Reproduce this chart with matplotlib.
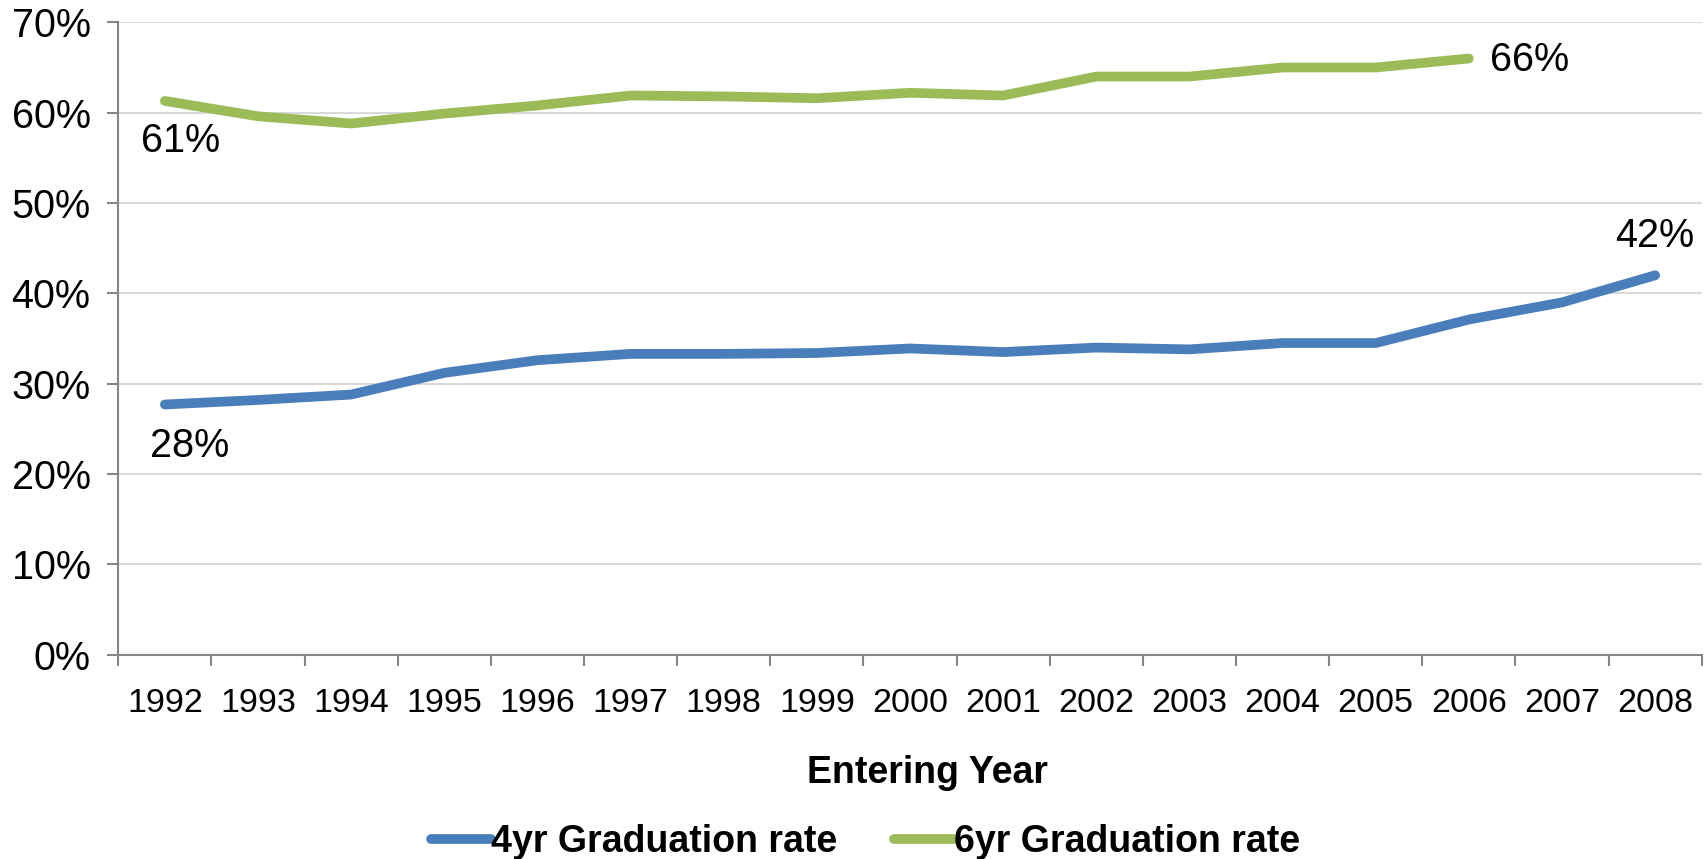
import numpy as np
import matplotlib.pyplot as plt
from matplotlib.ticker import FixedLocator

years = ['1992', '1993', '1994', '1995', '1996', '1997', '1998', '1999', '2000',
         '2001', '2002', '2003', '2004', '2005', '2006', '2007', '2008']
rate_4yr = [27.7, 28.2, 28.8, 31.2, 32.6, 33.3, 33.3, 33.4, 33.9,
            33.5, 34.0, 33.8, 34.5, 34.5, 37.1, 39.0, 42.0]
rate_6yr = [61.3, 59.6, 58.8, 59.9, 60.8, 61.9, 61.8, 61.6, 62.2,
            61.9, 64.0, 64.0, 65.0, 65.0, 66.0]
label_4yr = ['28%', '42%']
label_6yr = ['61%', '66%']

blue = '#4a7ebb'
green = '#9bbb59'
axis_col = '#868686'
grid_col = '#d9d9d9'

plt.rcParams['font.family'] = ['Liberation Sans', 'DejaVu Sans']

fig = plt.figure(figsize=(17.07, 8.59), dpi=100)
ax = fig.add_axes([0.0693, 0.2378, 0.9276, 0.7362])

x4 = np.arange(len(rate_4yr))
x6 = np.arange(len(rate_6yr))
ax.plot(x4, rate_4yr, color=blue, lw=7, solid_capstyle='round',
        solid_joinstyle='round', label='4yr Graduation rate', zorder=3)
ax.plot(x6, rate_6yr, color=green, lw=7, solid_capstyle='round',
        solid_joinstyle='round', label='6yr Graduation rate', zorder=3)

ax.set_xlim(-0.5, len(years) - 0.5)
ax.set_ylim(0, 70)
ax.set_yticks(np.arange(0, 71, 10))
ax.set_yticklabels([f'{v}%' for v in range(0, 71, 10)], fontsize=28.5)
ax.set_xticks(np.arange(len(years)))
ax.set_xticklabels(years, fontsize=24.5)
ax.xaxis.set_minor_locator(FixedLocator(np.arange(-0.5, len(years), 1.0)))
ax.tick_params(axis='x', which='major', length=0, pad=24)
ax.tick_params(axis='x', which='minor', length=8, width=1.5, color=axis_col)
ax.tick_params(axis='y', length=8, width=1.5, color=axis_col, pad=12)

ax.grid(axis='y', color=grid_col, lw=1.5, zorder=0)
for s in ['top', 'right']:
    ax.spines[s].set_visible(False)
for s in ['left', 'bottom']:
    ax.spines[s].set_color(axis_col)
    ax.spines[s].set_linewidth(1.5)

# end-point labels
ax.annotate(label_6yr[0], (x6[0], rate_6yr[0]), xytext=(11, -29), textcoords='offset points',
            ha='center', va='center', fontsize=28.5)
ax.annotate(label_6yr[1], (x6[-1], rate_6yr[-1]), xytext=(15, -1), textcoords='offset points',
            ha='left', va='center', fontsize=28.5)
ax.annotate(label_4yr[0], (x4[0], rate_4yr[0]), xytext=(18, -30), textcoords='offset points',
            ha='center', va='center', fontsize=28.5)
ax.annotate(label_4yr[1], (x4[-1], rate_4yr[-1]), xytext=(0, 28), textcoords='offset points',
            ha='center', va='center', fontsize=28.5)

ax.set_xlabel('Entering Year', fontsize=27, fontweight='bold')
ax.xaxis.set_label_coords(0.511, -0.158)

fig.legend(loc='center', bbox_to_anchor=(0.507, 0.02), ncol=2, frameon=False,
           prop={'size': 27, 'weight': 'bold'}, handlelength=1.6, handletextpad=0.0,
           columnspacing=1.5)

fig.savefig('out.png', dpi=100)
